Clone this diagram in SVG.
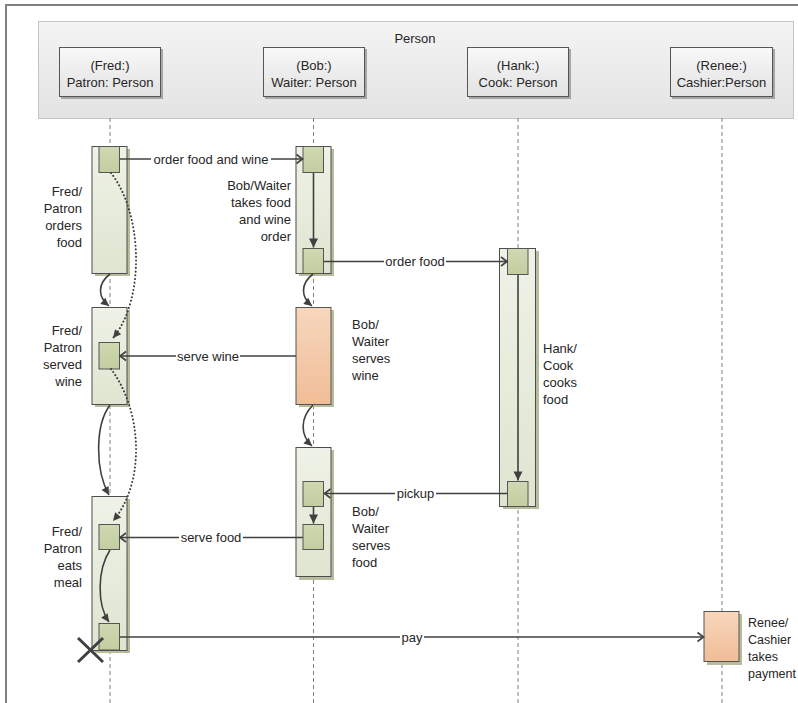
<svg xmlns="http://www.w3.org/2000/svg" width="798" height="703" viewBox="0 0 798 703">
<defs>
<linearGradient id="gPanel" x1="0" y1="0" x2="0" y2="1"><stop offset="0" stop-color="#f4f4f4"/><stop offset="1" stop-color="#e3e3e3"/></linearGradient>
<linearGradient id="gHead" x1="0" y1="0" x2="0" y2="1"><stop offset="0" stop-color="#f8f8f8"/><stop offset="1" stop-color="#e2e2e2"/></linearGradient>
<linearGradient id="gBar" x1="0" y1="0" x2="0" y2="1"><stop offset="0" stop-color="#eff2e7"/><stop offset="1" stop-color="#dfe5d0"/></linearGradient>
<linearGradient id="gBox" x1="0" y1="0" x2="0" y2="1"><stop offset="0" stop-color="#cfd9b2"/><stop offset="1" stop-color="#c2cda0"/></linearGradient>
<linearGradient id="gOr" x1="0" y1="0" x2="0" y2="1"><stop offset="0" stop-color="#f7d7bd"/><stop offset="1" stop-color="#f0bd97"/></linearGradient>
<marker id="open" markerUnits="userSpaceOnUse" markerWidth="12" markerHeight="12" viewBox="0 0 12 12" refX="9" refY="6" orient="auto"><path d="M3,1.5 L9,6 L3,10.5" fill="none" stroke="#404040" stroke-width="1.6"/></marker>
<marker id="fill" markerUnits="userSpaceOnUse" markerWidth="12" markerHeight="12" viewBox="0 0 12 12" refX="10" refY="6" orient="auto"><path d="M1,1.5 L10,6 L1,10.5 Z" fill="#404040"/></marker>
<marker id="fillS" markerUnits="userSpaceOnUse" markerWidth="10" markerHeight="10" viewBox="0 0 10 10" refX="9" refY="5" orient="auto"><path d="M1,1 L9,5 L1,9 Z" fill="#404040"/></marker>
</defs>
<style>
text{font-family:"Liberation Sans",Arial,sans-serif;font-size:13px;fill:#262626}
.mid{text-anchor:middle}
.end{text-anchor:end}
.sm{font-size:12.5px}
.life{stroke:#808080;stroke-width:1;stroke-dasharray:4,3;fill:none}
.head{fill:url(#gHead);stroke:#555;stroke-width:1}
.hsh{fill:#a6a6a6}
.bar{fill:url(#gBar);stroke:#4d4d4d;stroke-width:1}
.sh{fill:#b6bc9c}
.box{fill:url(#gBox);stroke:#555;stroke-width:1}
.or{fill:url(#gOr);stroke:#555;stroke-width:1}
.msg{stroke:#404040;stroke-width:1.6;fill:none}
.dot{stroke:#404040;stroke-width:2;fill:none;stroke-dasharray:0.1,3.6;stroke-linecap:round}
.lbg{fill:#ffffff}
</style>
<rect x="6" y="5" width="900" height="900" fill="#ffffff" stroke="#808080" stroke-width="2"/>
<g id="panel">
<rect x="38.5" y="21.5" width="755" height="97" fill="url(#gPanel)" stroke="#c4c4c4"/>
<text class="mid" x="415" y="42.5">Person</text>
</g>
<g id="lifelines">
<line class="life" x1="110" y1="118" x2="110" y2="703"/>
<line class="life" x1="313.5" y1="118" x2="313.5" y2="703"/>
<line class="life" x1="518" y1="118" x2="518" y2="703"/>
<line class="life" x1="722" y1="118" x2="722" y2="703"/>
</g>
<g id="fred-head"><rect class="hsh" x="61" y="49" width="102" height="50"/><rect class="head" x="59.5" y="47.5" width="101" height="49"/><text class="mid" x="110" y="69.5">(Fred:)</text><text class="mid" x="110" y="86.5">Patron: Person</text></g>
<g id="bob-head"><rect class="hsh" x="265" y="49" width="102" height="50"/><rect class="head" x="263.5" y="47.5" width="101" height="49"/><text class="mid" x="314" y="69.5">(Bob:)</text><text class="mid" x="314" y="86.5">Waiter: Person</text></g>
<g id="hank-head"><rect class="hsh" x="469" y="49" width="102" height="50"/><rect class="head" x="467.5" y="47.5" width="101" height="49"/><text class="mid" x="518" y="69.5">(Hank:)</text><text class="mid" x="518" y="86.5">Cook: Person</text></g>
<g id="renee-head"><rect class="hsh" x="672" y="49" width="103" height="50"/><rect class="head" x="670.5" y="47.5" width="102" height="49"/><text class="mid" x="721.5" y="69.5">(Renee:)</text><text class="mid" x="721.5" y="86.5">Cashier:Person</text></g>

<g id="fred-orders">
<rect class="sh" x="95" y="149" width="35" height="127"/><rect class="bar" x="92" y="146.5" width="35" height="127"/>
<rect class="box" x="99" y="146.5" width="20.5" height="26"/>
<text class="end" x="82" y="196">Fred/</text><text class="end" x="82" y="213">Patron</text><text class="end" x="82" y="230">orders</text><text class="end" x="82" y="247">food</text>
</g>
<g id="fred-served">
<rect class="sh" x="95" y="310" width="35" height="97"/><rect class="bar" x="92" y="307.5" width="35" height="97"/>
<rect class="box" x="99" y="342.5" width="20.5" height="26.5"/>
<text class="end" x="82" y="334.5">Fred/</text><text class="end" x="82" y="351.5">Patron</text><text class="end" x="82" y="368.5">served</text><text class="end" x="82" y="385.5">wine</text>
</g>
<g id="fred-eats">
<rect class="sh" x="95" y="499" width="35" height="154"/><rect class="bar" x="92" y="496.5" width="35" height="154"/>
<rect class="box" x="99" y="524.5" width="20.5" height="25"/>
<rect class="box" x="99" y="623.5" width="20.5" height="26.5"/>
<text class="end" x="82" y="535.5">Fred/</text><text class="end" x="82" y="552.5">Patron</text><text class="end" x="82" y="570">eats</text><text class="end" x="82" y="587">meal</text>
<path d="M78,638 L103,662 M103,638 L78,662" stroke="#404040" stroke-width="3" fill="none"/>
</g>
<g id="bob-takes">
<rect class="sh" x="299" y="149" width="35" height="127"/><rect class="bar" x="296" y="146.5" width="35" height="127"/>
<rect class="box" x="303" y="146.5" width="20.5" height="26"/>
<rect class="box" x="303" y="248.5" width="20.5" height="25"/>
<text class="end" x="291" y="189.5">Bob/Waiter</text><text class="end" x="291" y="206.5">takes food</text><text class="end" x="291" y="223.5">and wine</text><text class="end" x="291" y="240.5">order</text>
</g>
<g id="bob-wine">
<rect class="sh" x="299" y="310" width="35" height="97"/><rect class="or" x="296" y="307.5" width="35" height="97"/>
<text x="352" y="328.5">Bob/</text><text x="352" y="345.5">Waiter</text><text x="352" y="362.5">serves</text><text x="352" y="379.5">wine</text>
</g>
<g id="bob-food">
<rect class="sh" x="299" y="450" width="35" height="130"/><rect class="bar" x="296" y="447.5" width="35" height="129"/>
<rect class="box" x="303" y="481.5" width="20.5" height="25"/>
<rect class="box" x="303" y="524.5" width="20.5" height="25"/>
<text x="352" y="515.5">Bob/</text><text x="352" y="532.5">Waiter</text><text x="352" y="549.5">serves</text><text x="352" y="566.5">food</text>
</g>
<g id="hank-cooks">
<rect class="sh" x="503" y="251" width="36" height="258"/><rect class="bar" x="499.5" y="248.5" width="36" height="258"/>
<rect class="box" x="507.5" y="248.5" width="20.5" height="26"/>
<rect class="box" x="507.5" y="481.5" width="20.5" height="25"/>
<text x="543" y="352.5">Hank/</text><text x="543" y="369.5">Cook</text><text x="543" y="386.5">cooks</text><text x="543" y="403.5">food</text>
</g>
<g id="renee-takes">
<rect class="sh" x="707" y="614" width="35" height="51"/><rect class="or" x="704" y="611.5" width="35" height="50"/>
<text class="sm" x="748" y="627">Renee/</text><text class="sm" x="748" y="644">Cashier</text><text class="sm" x="748" y="661">takes</text><text class="sm" x="748" y="678">payment</text>
</g>

<g id="connectors">
<path class="dot" d="M111,173 C142,212 146,298 113,338" marker-end="url(#fillS)"/>
<path class="dot" d="M111,369 C142,410 146,482 113,521" marker-end="url(#fillS)"/>
<path class="msg" d="M110,274 C97,284 98,297 109,306" marker-end="url(#fillS)"/>
<path class="msg" d="M110,405 C95,425 95,470 109,495" marker-end="url(#fillS)"/>
<path class="msg" d="M110,550 C97,570 97,605 109,622" marker-end="url(#fillS)"/>
<path class="msg" d="M313,274 C300,284 301,297 312,306" marker-end="url(#fillS)"/>
<path class="msg" d="M313,405 C300,418 300,435 312,446" marker-end="url(#fillS)"/>
<line class="msg" x1="313.5" y1="173" x2="313.5" y2="247.5" marker-end="url(#fill)"/>
<line class="msg" x1="313.5" y1="507" x2="313.5" y2="523.5" marker-end="url(#fill)"/>
<line class="msg" x1="518" y1="275" x2="518" y2="480.5" marker-end="url(#fill)"/>
<line class="msg" x1="120" y1="159" x2="302.5" y2="159" marker-end="url(#open)"/>
<rect class="lbg" x="151" y="151" width="120" height="16"/><text class="mid" x="211" y="163.5">order food and wine</text>
<line class="msg" x1="324" y1="261.5" x2="507" y2="261.5" marker-end="url(#open)"/>
<rect class="lbg" x="384" y="253.5" width="62" height="16"/><text class="mid" x="415" y="266">order food</text>
<line class="msg" x1="296" y1="356" x2="120" y2="356" marker-end="url(#open)"/>
<rect class="lbg" x="176" y="348" width="64" height="16"/><text class="mid" x="208" y="360.5">serve wine</text>
<line class="msg" x1="507.5" y1="493.5" x2="324.5" y2="493.5" marker-end="url(#open)"/>
<rect class="lbg" x="395" y="485.5" width="41" height="16"/><text class="mid" x="415.5" y="498">pickup</text>
<line class="msg" x1="303" y1="537.5" x2="120" y2="537.5" marker-end="url(#open)"/>
<rect class="lbg" x="179" y="529.5" width="64" height="16"/><text class="mid" x="211" y="542">serve food</text>
<line class="msg" x1="120" y1="637" x2="703.5" y2="637" marker-end="url(#open)"/>
<rect class="lbg" x="400" y="629" width="24" height="16"/><text class="mid" x="412" y="641.5">pay</text>
</g>
</svg>
